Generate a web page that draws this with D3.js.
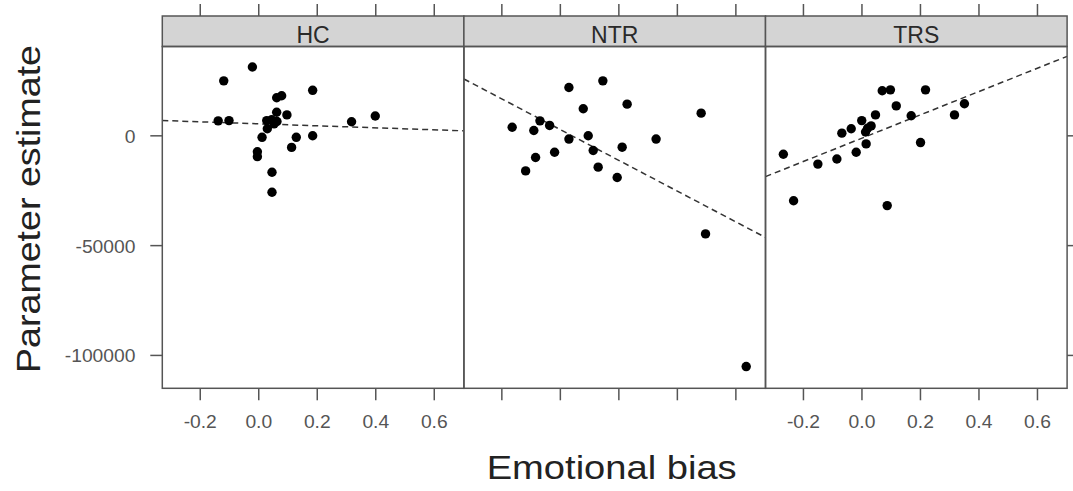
<!DOCTYPE html>
<html>
<head>
<meta charset="utf-8">
<script src="https://cdn.jsdelivr.net/npm/d3@7"></script>
<style>
  body { margin: 0; background: #fff; }
  text { font-family: "Liberation Sans", Arial, sans-serif; }
</style>
</head>
<body>
<div id="chart"></div>
<script>
// panel names
const groups = ["HC", "NTR", "TRS"];

// emotional bias (x) and parameter estimate (y) for each group
const hcX = [-0.02, -0.118, -0.137, -0.1, 0.063, 0.08, 0.186, 0.063, 0.098, 0.029, 0.046, 0.064,
  0.031, 0.013, 0.13, 0.186, 0.114, -0.003, -0.003, 0.047, 0.047, 0.319, 0.4, 0.054];
const hcY = [31100, 24800, 6600, 6700, 17100, 18000, 20500, 10500, 9300, 6700, 7100, 6300,
  3000, -900, -900, -200, -5500, -7500, -9700, -16800, -25900, 6200, 8800, 5200];

const ntrX = [-0.163, -0.089, -0.068, -0.035, 0.031, 0.147, 0.08, 0.23, 0.483, 0.031, 0.097,
  0.114, 0.213, 0.329, -0.018, -0.083, -0.117, 0.131, 0.196, 0.498, 0.637];
const ntrY = [3700, 2200, 6600, 4500, 21800, 24800, 12100, 14200, 10100, -1700, -200,
  -6900, -5400, -1700, -7700, -10100, -16200, -14500, -19200, -44900, -105300];

const trsX = [-0.267, -0.232, -0.149, -0.084, -0.067, -0.035, -0.018, 0.001, 0.033, 0.021, 0.014,
  0.016, 0.048, 0.071, 0.099, 0.119, 0.17, 0.219, 0.202, 0.318, 0.352, 0.088];
const trsY = [-8600, -29800, -13100, -10800, 1000, 3000, -7700, 6700, 4300, 3200, 1500,
  -3900, 9300, 20300, 20700, 13400, 8900, 20700, -3300, 9300, 14400, -32000];

// fitted lines (intercept, slope) per group
const lineIntercept = [5250, 2700, -1380];
const lineSlope = [-4550, -70000, 53100];

// ticks
const xTicks = [-0.2, 0.0, 0.2, 0.4, 0.6];
const yTicks = [0, -50000, -100000];

const panelData = [
  { name: groups[0], xs: hcX, ys: hcY },
  { name: groups[1], xs: ntrX, ys: ntrY },
  { name: groups[2], xs: trsX, ys: trsY }
];

const W = 1073, H = 491;
const panelLeft = 162.3, panelW = 301.6;
const stripTop = 16, stripH = 30.5;
const panelTop = stripTop + stripH, panelBottom = 388.3;
const grey = "#555";

const svg = d3.select("#chart").append("svg")
  .attr("width", W)
  .attr("height", H);

const x = d3.scaleLinear().domain([-0.328, 0.703]).range([0, panelW]);
const y = d3.scaleLinear().domain([-115200, 40450]).range([panelBottom, panelTop]);

panelData.forEach((p, i) => {
  const g = svg.append("g")
    .attr("transform", "translate(" + (panelLeft + i * panelW) + ",0)");

  // strip
  g.append("rect")
    .attr("x", 0).attr("y", stripTop)
    .attr("width", panelW).attr("height", stripH)
    .attr("fill", "#d4d4d4")
    .attr("stroke", grey).attr("stroke-width", 1.5);
  g.append("text")
    .attr("x", panelW / 2).attr("y", stripTop + 27)
    .attr("text-anchor", "middle")
    .style("font-size", "23px")
    .attr("fill", "#2a2a2a")
    .text(p.name);

  // bottom axis, labels on outer panels only
  const bx = g.append("g")
    .attr("transform", "translate(0," + panelBottom + ")")
    .call(d3.axisBottom(x).tickValues(xTicks).tickSize(12)
      .tickFormat(i === 1 ? "" : (d) => d.toFixed(1)));
  bx.select(".domain").remove();
  bx.selectAll("line").attr("stroke", grey).attr("stroke-width", 1.5);
  bx.selectAll("text")
    .attr("y", 40).attr("dy", null)
    .attr("fill", grey)
    .style("font-size", "17.5px")
    .attr("transform", "scale(1.1,1)");

  // top ticks (labels fall outside the picture)
  const tx = g.append("g")
    .attr("transform", "translate(0," + stripTop + ")")
    .call(d3.axisTop(x).tickValues(xTicks).tickSize(12).tickFormat(""));
  tx.select(".domain").remove();
  tx.selectAll("line").attr("stroke", grey).attr("stroke-width", 1.5);

  // fitted dashed line
  const dom = x.domain();
  g.append("path")
    .datum(dom)
    .attr("fill", "none")
    .attr("stroke", "#333")
    .attr("stroke-width", 1.5)
    .attr("stroke-dasharray", "6,4")
    .attr("d", d3.line()
      .x((d) => x(d))
      .y((d) => y(lineIntercept[i] + lineSlope[i] * d)));

  // points
  g.selectAll(".pt")
    .data(d3.range(p.xs.length))
    .enter()
    .append("circle")
    .attr("cx", (k) => x(p.xs[k]))
    .attr("cy", (k) => y(p.ys[k]))
    .attr("r", 4.7)
    .attr("fill", "#000");

  // panel border
  g.append("rect")
    .attr("x", 0).attr("y", panelTop)
    .attr("width", panelW).attr("height", panelBottom - panelTop)
    .attr("fill", "none")
    .attr("stroke", grey).attr("stroke-width", 1.5);
});

// left y axis
const ly = svg.append("g")
  .attr("transform", "translate(" + panelLeft + ",0)")
  .call(d3.axisLeft(y).tickValues(yTicks).tickSize(12).tickFormat((d) => String(d)));
ly.select(".domain").remove();
ly.selectAll("line").attr("stroke", grey).attr("stroke-width", 1.5);
ly.selectAll("text")
  .attr("x", -24.5).attr("dy", "0.4em")
  .attr("fill", grey)
  .style("font-size", "17.5px")
  .attr("transform", "scale(1.1,1)");

// right y ticks
const ry = svg.append("g")
  .attr("transform", "translate(" + (panelLeft + 3 * panelW) + ",0)")
  .call(d3.axisRight(y).tickValues(yTicks).tickSize(12).tickFormat(""));
ry.select(".domain").remove();
ry.selectAll("line").attr("stroke", grey).attr("stroke-width", 1.5);

// axis titles
svg.append("text")
  .attr("x", 611.7).attr("y", 479)
  .attr("text-anchor", "middle")
  .style("font-size", "34px")
  .attr("fill", "#222")
  .attr("textLength", 250)
  .attr("lengthAdjust", "spacingAndGlyphs")
  .text("Emotional bias");

svg.append("text")
  .attr("transform", "translate(40,209) rotate(-90)")
  .attr("text-anchor", "middle")
  .style("font-size", "34px")
  .attr("fill", "#222")
  .attr("textLength", 328)
  .attr("lengthAdjust", "spacingAndGlyphs")
  .text("Parameter estimate");
</script>
</body>
</html>
